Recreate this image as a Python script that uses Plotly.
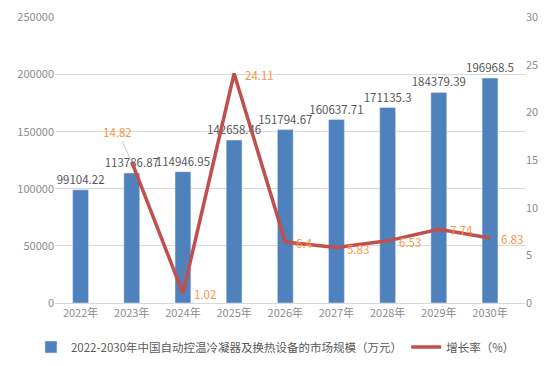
import plotly.graph_objects as go

years = ["2022年", "2023年", "2024年", "2025年", "2026年", "2027年", "2028年", "2029年", "2030年"]
market = [99104.22, 113786.87, 114946.95, 142658.46, 151794.67, 160637.71, 171135.3, 184379.39, 196968.5]
growth_years = ["2023年", "2024年", "2025年", "2026年", "2027年", "2028年", "2029年", "2030年"]
growth = [14.82, 1.02, 24.11, 6.4, 5.83, 6.53, 7.74, 6.83]
market_labels = ["99104.22", "113786.87", "114946.95", "142658.46", "151794.67", "160637.71", "171135.3", "184379.39", "196968.5"]
growth_labels = ["14.82", "1.02", "24.11", "6.4", "5.83", "6.53", "7.74", "6.83"]

FONT = "Noto Sans CJK SC, Microsoft YaHei, sans-serif"
TICK = "#8c8c8c"

fig = go.Figure()
fig.add_trace(go.Bar(
    x=years, y=market, name="2022-2030年中国自动控温冷凝器及换热设备的市场规模（万元）",
    marker_color="#4F81BD", width=0.31, legend="legend",
    text=market_labels, textposition="outside", cliponaxis=False, constraintext="none",
    textfont=dict(color="#595959", size=11.5, family=FONT),
))
fig.add_trace(go.Scatter(
    x=growth_years, y=growth, name="增长率（%）", yaxis="y2", mode="lines", legend="legend2",
    line=dict(color="#C0504D", width=3.5),
))

for i, (xv, yv, lab) in enumerate(zip(growth_years, growth, growth_labels)):
    if i == 0:
        fig.add_annotation(x=xv, y=yv, yref="y2", xref="x", text=lab,
                           showarrow=True, arrowhead=0, arrowwidth=0.8, arrowcolor="#bfbfbf",
                           ax=-14, ay=-30, standoff=0,
                           font=dict(color="#F79646", size=11.5, family=FONT))
    else:
        fig.add_annotation(x=xv, y=yv, yref="y2", xref="x", text=lab,
                           showarrow=False, xanchor="left", xshift=9, yshift=-1,
                           font=dict(color="#F79646", size=11.5, family=FONT))

legend_font = dict(color="#595959", size=11.5, family=FONT)
fig.update_layout(
    width=547, height=358,
    margin=dict(l=47, r=30, t=9, b=63, autoexpand=False),
    paper_bgcolor="white", plot_bgcolor="white",
    font=dict(family=FONT, size=11, color=TICK),
    xaxis=dict(showgrid=False, ticks="", linecolor="#d9d9d9", showline=True, automargin=False,
               tickfont=dict(color=TICK, size=11)),
    yaxis=dict(range=[0, 250400], tickvals=[0, 50000, 100000, 150000, 200000, 250000],
               tickformat="d", gridcolor="#d9d9d9", zeroline=False,
               automargin=False, ticklabeloverflow="allow", tickfont=dict(color=TICK, size=11)),
    yaxis2=dict(range=[0, 30.048], tickvals=[0, 5, 10, 15, 20, 25, 30], overlaying="y", side="right",
                showgrid=False, automargin=False, ticklabeloverflow="allow", zeroline=False,
                tickfont=dict(color=TICK, size=11)),
    legend=dict(orientation="h", x=0.042, xanchor="left", xref="container",
                y=0.053, yanchor="middle", yref="container", itemwidth=30,
                font=legend_font, bgcolor="rgba(0,0,0,0)"),
    legend2=dict(orientation="h", x=0.728, xanchor="left", xref="container",
                 y=0.053, yanchor="middle", yref="container", itemwidth=30,
                 font=legend_font, bgcolor="rgba(0,0,0,0)"),
    showlegend=True,
)

fig.write_html("out.html")
